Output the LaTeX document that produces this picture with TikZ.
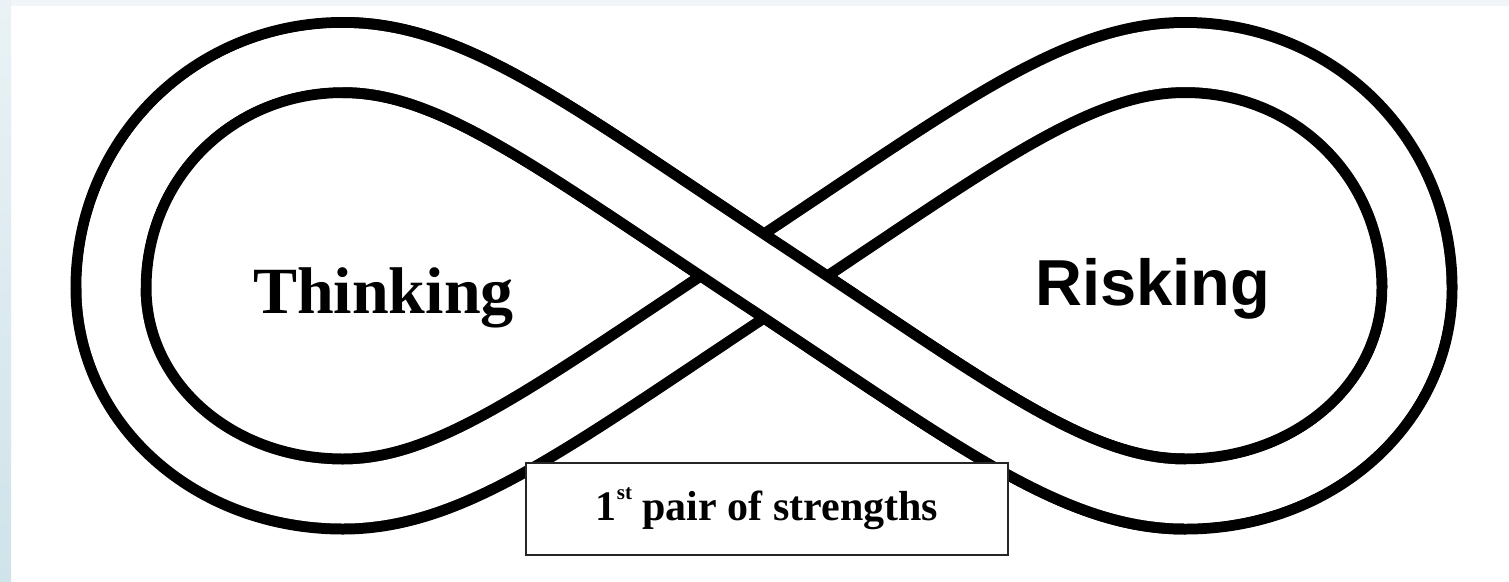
\documentclass[tikz,border=0pt]{standalone}
\usepackage{fontspec}
\setmainfont{Liberation Serif}
\newfontfamily\labelsans{Liberation Sans}
\definecolor{stripTop}{HTML}{F0F5F8}
\definecolor{stripA}{HTML}{EAF2F5}
\definecolor{stripB}{HTML}{CFE3EA}
\begin{document}
\begin{tikzpicture}[x=1pt,y=-1pt,
  band/.style={draw=black, line width=11pt, double=white, double distance=59pt},
  bandedge/.style={draw=black, line width=81pt},
  bandcore/.style={draw=white, line width=59pt},
  lobetext/.style={inner sep=0pt, anchor=base west},
  labelbox/.style={draw=black!85, line width=2pt, fill=white, inner sep=0pt,
                   minimum width=482pt, minimum height=92pt}]
  \useasboundingbox (0,0) rectangle (1509,581);
  % page edges
  \fill[white] (0,0) rectangle (1509,581);
  \fill[stripTop] (0,0) rectangle (1509,6);
  \shade[top color=stripA, bottom color=stripB] (0,0) rectangle (11,581);

  % key points of the figure-eight centre line
  \coordinate (C)  at (764,276);
  \coordinate (TL) at (343,57.5);
  \coordinate (L)  at (111,288);
  \coordinate (BL) at (343,494);
  \coordinate (TR) at (1185,57.5);
  \coordinate (R)  at (1417,288);
  \coordinate (BR) at (1185,494);

  % the whole band
  \draw[band] (C) .. controls (555,138) and (453,57.5) .. (TL)
    .. controls (213,57.5) and (111,159) .. (L)
    .. controls (111,403) and (213,494) .. (BL)
    .. controls (453,494) and (555,414) .. (C)
    .. controls (973,138) and (1075,57.5) .. (TR)
    .. controls (1315,57.5) and (1417,159) .. (R)
    .. controls (1417,403) and (1315,494) .. (BR)
    .. controls (1075,494) and (973,414) .. (C) -- cycle;

  % the strand that passes over at the crossing: edges, then a longer core
  \draw[bandedge] (BR) .. controls (1075,494) and (973,414) .. (C)
    .. controls (555,138) and (453,57.5) .. (TL);
  \draw[bandcore] (R) .. controls (1417,403) and (1315,494) .. (BR)
    .. controls (1075,494) and (973,414) .. (C)
    .. controls (555,138) and (453,57.5) .. (TL)
    .. controls (213,57.5) and (111,159) .. (L);

  % labels
  \node[lobetext, font=\bfseries\fontsize{66}{70}\selectfont] (thinking) at (253,313) {Thinking};
  \node[lobetext, font=\labelsans\bfseries\fontsize{65}{70}\selectfont] (risking) at (1035,305) {Risking};

  \node[labelbox] (box) at (767,509) {};
  \node[inner sep=0pt, anchor=base, font=\bfseries\fontsize{42}{46}\selectfont] (pair) at (767,520)
    {1\raisebox{21pt}{\fontsize{21}{21}\selectfont st} pair of strengths};
\end{tikzpicture}
\end{document}
